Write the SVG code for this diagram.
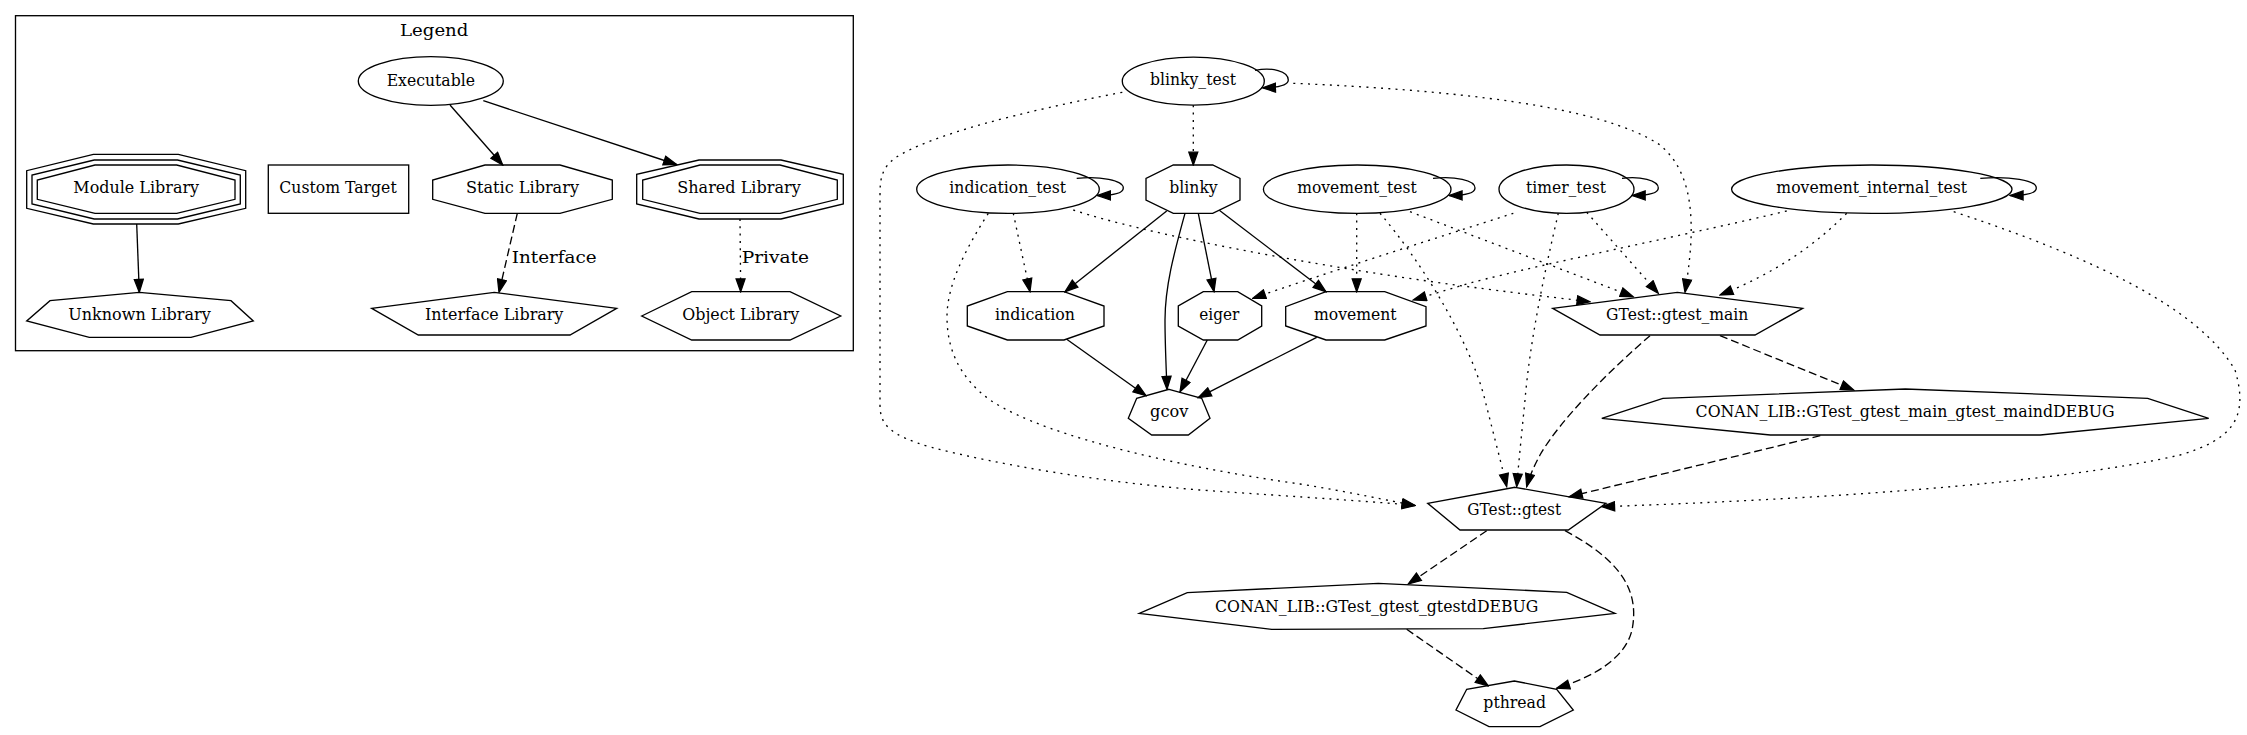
<svg xmlns="http://www.w3.org/2000/svg" width="2247" height="735" viewBox="0 0 2247 735">
<style>
text{font-family:"DejaVu Serif",serif;font-size:17px;text-anchor:middle;fill:#000}
.n{fill:none;stroke:#000;stroke-width:1.33}
.e{fill:none;stroke:#000;stroke-width:1.33}
.dot{stroke-dasharray:2,5.3}
.dash{stroke-dasharray:8,4}
.lbl{text-anchor:start}
</style>
<defs>
<marker id="ah" markerUnits="userSpaceOnUse" markerWidth="15" markerHeight="11" viewBox="-1 -1 15.4 11.4" refX="13.33" refY="4.67" orient="auto">
<path d="M0,0 L13.33,4.67 L0,9.33 Z" fill="#000" stroke="#000" stroke-width="1.33" stroke-dasharray="none"/>
</marker>
</defs>
<rect width="2247" height="735" fill="#fff"/>
<g id="legend">
<rect x="15.5" y="15.7" width="837.8" height="335" class="n"/>
<text x="434.2" y="36" textLength="68.3" lengthAdjust="spacingAndGlyphs">Legend</text>
</g>
<g id="executable"><ellipse cx="430.8" cy="81" rx="72.5" ry="24.3" class="n"/><text x="430.8" y="86" textLength="88.3" lengthAdjust="spacingAndGlyphs">Executable</text></g>
<g id="static_library"><polygon class="n" points="485,165 560,165 612.3,180 612.3,199.3 560,213.3 485,213.3 432.7,199.3 432.7,180"/><text x="522.5" y="193.3" textLength="113" lengthAdjust="spacingAndGlyphs">Static Library</text></g>
<g id="shared_library"><polygon class="n" points="699,160 781,160 843.3,174.3 843.3,204 781,219 699,219 636.7,204 636.7,174.3"/><polygon class="n" points="700,165 780,165 837.3,180 837.3,199.3 780,213.3 700,213.3 642.7,199.3 642.7,180"/><text x="739" y="193.3" textLength="123.4" lengthAdjust="spacingAndGlyphs">Shared Library</text></g>
<g id="module_library"><polygon class="n" points="93.3,154.3 178.3,154.3 245.7,170.7 245.7,208.3 178.3,224 93.3,224 26.7,208.3 26.7,170.7"/><polygon class="n" points="94.2,160 177.5,160 240.3,175 240.3,204 177.5,219 94.2,219 32,204 32,175"/><polygon class="n" points="95,165 176.7,165 235,180 235,199.3 176.7,213.3 95,213.3 37.3,199.3 37.3,180"/><text x="136.2" y="193.3" textLength="125.7" lengthAdjust="spacingAndGlyphs">Module Library</text></g>
<g id="custom_target"><rect class="n" x="268.3" y="165" width="140.4" height="48.3"/><text x="338" y="193.3" textLength="117.4" lengthAdjust="spacingAndGlyphs">Custom Target</text></g>
<g id="unknown_library"><polygon class="n" points="139.3,292.3 231,300.7 253.3,321 191,337.3 89.3,337.3 26.7,321 50,300.7"/><text x="139.5" y="320" textLength="142.4" lengthAdjust="spacingAndGlyphs">Unknown Library</text></g>
<g id="interface_library"><polygon class="n" points="494.2,292.3 616.7,308.3 570,335 418.3,335 371.7,308.3"/><text x="494.2" y="320" textLength="138.3" lengthAdjust="spacingAndGlyphs">Interface Library</text></g>
<g id="object_library"><polygon class="n" points="641.7,316 691.7,291.7 790,291.7 840.7,316 790,340 691.7,340"/><text x="740.8" y="320" textLength="117" lengthAdjust="spacingAndGlyphs">Object Library</text></g>

<g id="blinky_test"><ellipse cx="1193.3" cy="81.2" rx="71" ry="24" class="n"/><text x="1193" y="85.3" textLength="86" lengthAdjust="spacingAndGlyphs">blinky_test</text></g>
<g id="indication_test"><ellipse cx="1008" cy="189.2" rx="91.3" ry="24.2" class="n"/><text x="1007.7" y="193.3" textLength="116.7" lengthAdjust="spacingAndGlyphs">indication_test</text></g>
<g id="blinky"><polygon class="n" points="1173.3,165 1212.7,165 1240,178.3 1240,200 1212.7,213.3 1173.3,213.3 1146,200 1146,178.3"/><text x="1193.5" y="193.3" textLength="48.4" lengthAdjust="spacingAndGlyphs">blinky</text></g>
<g id="movement_test"><ellipse cx="1357.2" cy="189.2" rx="93.8" ry="24.2" class="n"/><text x="1357" y="193.3" textLength="119.4" lengthAdjust="spacingAndGlyphs">movement_test</text></g>
<g id="timer_test"><ellipse cx="1566.5" cy="189.2" rx="67.5" ry="24.2" class="n"/><text x="1566" y="193.3" textLength="80" lengthAdjust="spacingAndGlyphs">timer_test</text></g>
<g id="movement_internal_test"><ellipse cx="1871.8" cy="189.2" rx="140.2" ry="24.2" class="n"/><text x="1871.7" y="193.3" textLength="190.7" lengthAdjust="spacingAndGlyphs">movement_internal_test</text></g>
<g id="indication"><polygon class="n" points="1007.4,291.7 1064,291.7 1104,306 1104,326 1064,340 1007.4,340 967.3,326 967.3,306"/><text x="1035" y="320" textLength="80" lengthAdjust="spacingAndGlyphs">indication</text></g>
<g id="eiger"><polygon class="n" points="1203.3,291.7 1237.7,291.7 1261.7,306 1261.7,326 1237.7,340 1203.3,340 1178.3,326 1178.3,306"/><text x="1219.3" y="320" textLength="40" lengthAdjust="spacingAndGlyphs">eiger</text></g>
<g id="movement"><polygon class="n" points="1326,291.7 1384.7,291.7 1426,306.7 1426,326 1384.7,340 1326,340 1285.7,326 1285.7,306.7"/><text x="1355.3" y="320" textLength="82.7" lengthAdjust="spacingAndGlyphs">movement</text></g>
<g id="gcov"><polygon class="n" points="1169,389.3 1201.7,398.3 1210,418.3 1188.3,435 1151.7,435 1128.3,418.3 1136.7,398.3"/><text x="1169.2" y="417.3" textLength="38.3" lengthAdjust="spacingAndGlyphs">gcov</text></g>
<g id="gtest_main"><polygon class="n" points="1677.3,292.3 1802.7,308.3 1755,335 1600,335 1552.7,308.3"/><text x="1677.2" y="320" textLength="142.3" lengthAdjust="spacingAndGlyphs">GTest::gtest_main</text></g>
<g id="conan_gtest_main"><polygon class="n" points="1905.3,389 2147.7,398.3 2208.7,418.3 2040.3,435 1770.3,435 1601.8,418.3 1662.9,398.3"/><text x="1905.1" y="416.8" textLength="419" lengthAdjust="spacingAndGlyphs">CONAN_LIB::GTest_gtest_main_gtest_maindDEBUG</text></g>
<g id="gtest"><polygon class="n" points="1515,487.3 1606,503.3 1568.3,530 1460,530 1427.7,503.3"/><text x="1514.2" y="515" textLength="93.7" lengthAdjust="spacingAndGlyphs">GTest::gtest</text></g>
<g id="conan_gtest"><polygon class="n" points="1378.3,583.3 1566.7,592.3 1615,613.3 1483.3,628.7 1271.7,629.3 1139.3,613.3 1187.3,592.7"/><text x="1376.7" y="611.7" textLength="323.3" lengthAdjust="spacingAndGlyphs">CONAN_LIB::GTest_gtest_gtestdDEBUG</text></g>
<g id="pthread"><polygon class="n" points="1514.3,681 1556.7,689.3 1573.3,710 1540,726.7 1489,726.7 1456,710 1466.7,689.3"/><text x="1514.7" y="708.3" textLength="62.7" lengthAdjust="spacingAndGlyphs">pthread</text></g>

<g id="connectors">
<path class="e" marker-end="url(#ah)" d="M450,105 L502.7,165"/>
<path class="e" marker-end="url(#ah)" d="M483.3,100.7 L676.5,164.5"/>
<path class="e" marker-end="url(#ah)" d="M136.7,224 L139.3,292.3"/>
<path class="e dash" marker-end="url(#ah)" d="M517.3,213.3 L499,292.3"/>
<text class="lbl" x="511.7" y="262.7" textLength="85" lengthAdjust="spacingAndGlyphs">Interface</text>
<path class="e dot" marker-end="url(#ah)" d="M740,219 L740.7,291.7"/>
<text class="lbl" x="741.7" y="262.7" textLength="67.3" lengthAdjust="spacingAndGlyphs">Private</text>

<path class="e" marker-end="url(#ah)" d="M1255.1,70.3 C1272,67 1288.3,71 1288.3,80 C1288.3,85 1280,87.5 1262.6,87.8"/>
<path class="e" marker-end="url(#ah)" d="M1076.7,178.3 C1100,176 1123.3,180 1123.3,188 C1123.3,193 1115,195.5 1097.5,195.5"/>
<path class="e" marker-end="url(#ah)" d="M1433,178.3 C1455,176 1475,180 1475,188 C1475,193 1467,195.5 1449.2,195.5"/>
<path class="e" marker-end="url(#ah)" d="M1622,178.3 C1640,176 1658.3,180 1658.3,188 C1658.3,193 1650,195.5 1632.3,195.5"/>
<path class="e" marker-end="url(#ah)" d="M1980.3,178.3 C2010,176 2036.3,180 2036.3,188 C2036.3,193 2028,195.5 2010.2,195.5"/>

<path class="e" marker-end="url(#ah)" d="M1166.7,211 L1065,291.7"/>
<path class="e" marker-end="url(#ah)" d="M1185,213.3 C1175,250 1165,285 1165,320 C1165,345 1166.3,370 1167,389.3"/>
<path class="e" marker-end="url(#ah)" d="M1198.3,213.3 L1214,291.7"/>
<path class="e" marker-end="url(#ah)" d="M1219.3,210.3 L1326,291.7"/>
<path class="e" marker-end="url(#ah)" d="M1066.7,339.3 L1146,395.7"/>
<path class="e" marker-end="url(#ah)" d="M1207.3,340 L1180,391.7"/>
<path class="e" marker-end="url(#ah)" d="M1316.7,337.3 L1198.3,397.7"/>

<path class="e dot" marker-end="url(#ah)" d="M1193.3,105.3 L1193.3,165"/>
<path class="e dot" marker-end="url(#ah)" d="M1122.3,92.3 C1020,112 930,135 895,158 C882,168 880,178 880,195 L880,405 C880,425 890,435 930,447 C1000,465 1100,482 1200,490 C1300,497 1380,502 1415,505.5"/>
<path class="e dot" marker-end="url(#ah)" d="M1293.3,83.3 C1450,90 1600,105 1660,145 C1690,170 1692,210 1691,240 C1690,260 1687,280 1685,292.3"/>
<path class="e dot" marker-end="url(#ah)" d="M1013.3,213.3 L1030,291.7"/>
<path class="e dot" marker-end="url(#ah)" d="M988.3,213.3 C965,250 947,285 947,317 C947,350 960,378 990,400 C1050,440 1200,470 1300,484 C1350,492 1390,501 1415,505.5"/>
<path class="e dot" marker-end="url(#ah)" d="M1073.3,210 C1150,235 1300,262 1400,277 C1480,289 1550,297 1590,301.7"/>
<path class="e dot" marker-end="url(#ah)" d="M1356.7,213.3 L1356.7,291.7"/>
<path class="e dot" marker-end="url(#ah)" d="M1380,213.3 C1420,260 1470,340 1485,400 C1495,440 1503,470 1506.7,486.7"/>
<path class="e dot" marker-end="url(#ah)" d="M1410,211.7 L1633.3,296.7"/>
<path class="e dot" marker-end="url(#ah)" d="M1513.3,213.3 C1430,240 1320,275 1252.7,298.3"/>
<path class="e dot" marker-end="url(#ah)" d="M1558.3,213.3 C1545,270 1530,340 1525,400 C1521,440 1518,470 1516.7,486.7"/>
<path class="e dot" marker-end="url(#ah)" d="M1586.7,212.3 L1658.3,293.3"/>
<path class="e dot" marker-end="url(#ah)" d="M1786.7,211 C1700,232 1550,262 1470,283 C1450,289 1430,295 1413.3,300"/>
<path class="e dot" marker-end="url(#ah)" d="M1846.7,213.3 C1810,250 1770,275 1720,295"/>
<path class="e dot" marker-end="url(#ah)" d="M1953.7,211.7 C2100,260 2200,310 2235,370 C2250,420 2230,440 2180,455 C2050,485 1800,500 1601.7,506.7"/>

<path class="e dash" marker-end="url(#ah)" d="M1650,335.7 C1610,370 1560,420 1540,455 C1533,468 1529,478 1526.7,486.7"/>
<path class="e dash" marker-end="url(#ah)" d="M1720,335.7 L1853.7,390"/>
<path class="e dash" marker-end="url(#ah)" d="M1820.3,435.7 L1569.3,496.7"/>
<path class="e dash" marker-end="url(#ah)" d="M1486.7,530.7 L1408.3,584"/>
<path class="e dash" marker-end="url(#ah)" d="M1565,530.7 C1620,560 1640,590 1632,630 C1625,660 1590,678 1556.7,688.3"/>
<path class="e dash" marker-end="url(#ah)" d="M1406.7,629.3 L1488.3,686"/>
</g>
</svg>
